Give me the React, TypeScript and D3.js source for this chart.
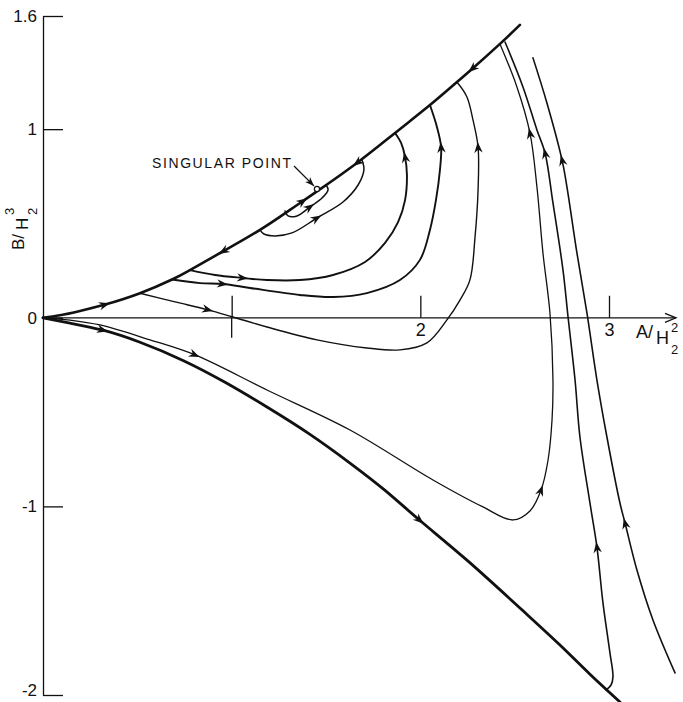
import { useRef, useEffect } from 'react'
import * as d3 from 'd3'

type Pt = [number, number]

const xTicks = [1, 2, 3]
const yTicks = [-2, -1, 0, 1, 1.6]
const xAxisMax = 3.355
const singularPoint: Pt = [1.452, 0.678]

// separatrices (A/H2^2, B/H2^3)
const upperBoundary: Pt[] = [
  [0, 0], [0.09, 0.013], [0.196, 0.036], [0.329, 0.07], [0.514, 0.13], [0.684, 0.203],
  [0.779, 0.253], [0.954, 0.352], [1.15, 0.466], [1.309, 0.572], [1.378, 0.619], [1.452, 0.67],
  [1.664, 0.821], [1.866, 0.98], [2.051, 1.128], [2.194, 1.25], [2.274, 1.319], [2.422, 1.452],
  [2.528, 1.553]
]
const lowerBoundary: Pt[] = [
  [0, 0], [0.143, -0.028], [0.318, -0.066], [0.514, -0.13], [0.742, -0.226], [0.965, -0.342],
  [1.187, -0.473], [1.415, -0.618], [1.627, -0.77], [1.813, -0.915], [1.998, -1.075],
  [2.247, -1.285], [2.528, -1.539], [2.74, -1.735], [2.899, -1.89], [3.058, -2.037]
]

// trajectories
const trajC1: Pt[] = [
  [0.779, 0.253], [0.912, 0.227], [1.06, 0.211], [1.187, 0.2], [1.362, 0.2], [1.537, 0.227],
  [1.707, 0.296], [1.813, 0.397], [1.882, 0.507], [1.919, 0.624], [1.929, 0.757], [1.919, 0.853],
  [1.898, 0.927], [1.866, 0.98]
]
const trajC2: Pt[] = [
  [0.684, 0.203], [0.832, 0.184], [0.954, 0.179], [1.097, 0.158], [1.362, 0.121], [1.537, 0.11],
  [1.717, 0.131], [1.892, 0.2], [1.998, 0.307], [2.051, 0.466], [2.083, 0.625], [2.104, 0.784],
  [2.11, 0.906], [2.088, 1.012], [2.051, 1.128]
]
const trajC3: Pt[] = [
  [0.514, 0.13], [0.7, 0.084], [0.875, 0.042], [1.007, 0.004], [1.187, -0.049], [1.452, -0.117],
  [1.717, -0.16], [1.892, -0.17], [2.035, -0.133], [2.141, -0.011], [2.21, 0.094], [2.263, 0.201],
  [2.29, 0.429], [2.306, 0.678], [2.306, 0.906], [2.279, 1.049], [2.247, 1.171], [2.194, 1.25]
]
const loopBig: Pt[] = [
  [1.15, 0.466], [1.171, 0.444], [1.23, 0.434], [1.32, 0.45], [1.452, 0.529], [1.59, 0.614],
  [1.67, 0.704], [1.701, 0.784], [1.691, 0.837]
]
const loopSmall: Pt[] = [
  [1.283, 0.566], [1.299, 0.54], [1.346, 0.54], [1.415, 0.588], [1.479, 0.635], [1.511, 0.678],
  [1.5, 0.704]
]
const trajL: Pt[] = [
  [0, 0], [0.143, -0.012], [0.302, -0.038], [0.567, -0.117], [0.806, -0.197], [1.187, -0.383],
  [1.627, -0.595], [2.067, -0.86], [2.332, -1.003], [2.491, -1.072], [2.581, -1.024], [2.64, -0.913],
  [2.677, -0.754], [2.698, -0.542], [2.703, -0.33], [2.687, 0.025], [2.65, 0.343], [2.618, 0.694],
  [2.581, 0.98], [2.512, 1.224], [2.422, 1.452]
]
const trajR2: Pt[] = [
  [2.449, 1.462], [2.544, 1.224], [2.618, 0.996], [2.661, 0.874], [2.703, 0.609], [2.756, 0.254],
  [2.783, 0.004], [2.82, -0.33], [2.846, -0.632], [2.899, -0.982], [2.936, -1.215], [2.968, -1.512],
  [3.005, -1.777], [3.021, -1.904], [3.011, -1.947], [2.984, -1.973]
]
const trajR3: Pt[] = [
  [2.597, 1.378], [2.671, 1.139], [2.751, 0.837], [2.777, 0.694], [2.83, 0.344], [2.883, 0.026],
  [2.936, -0.33], [2.989, -0.632], [3.058, -0.982], [3.085, -1.088], [3.148, -1.337],
  [3.233, -1.602], [3.35, -1.883]
]

// [point index, 1 = along drawing order, -1 = against]
const curves = [
  { pts: upperBoundary, w: 2.6, smooth: true, arrows: [[3, 1], [7, -1], [10, 1], [12, -1], [16, -1]] },
  { pts: lowerBoundary, w: 2.8, smooth: true, arrows: [[2, 1], [10, 1]] },
  { pts: trajC1, w: 1.9, smooth: false, arrows: [[2, 1], [11, 1]] },
  { pts: trajC2, w: 1.9, smooth: false, arrows: [[2, 1], [12, 1]] },
  { pts: trajC3, w: 1.4, smooth: false, arrows: [[2, 1], [14, 1]] },
  { pts: loopBig, w: 1.5, smooth: false, arrows: [[4, 1]] },
  { pts: loopSmall, w: 1.5, smooth: false, arrows: [[3, 1]] },
  { pts: trajL, w: 1.3, smooth: false, arrows: [[4, 1], [11, 1], [18, 1]] },
  { pts: trajR2, w: 1.6, smooth: false, arrows: [[3, -1], [10, -1]] },
  { pts: trajR3, w: 1.6, smooth: false, arrows: [[2, -1], [9, -1]] }
]

const width = 683
const height = 702
const ink = '#111'
const font = '"Liberation Sans", Arial, sans-serif'

function App() {
  const chartRef = useRef<HTMLDivElement>(null)

  useEffect(() => {
    const container = chartRef.current
    if (!container) return
    container.innerHTML = ''

    const svg = d3.select(container).append('svg')
      .attr('width', width)
      .attr('height', height)
      .style('display', 'block')
      .style('background', '#fff')

    const x = d3.scaleLinear().domain([0, 3]).range([43, 609])
    const y = d3.scaleLinear().domain([-2, 1.6]).range([695, 16])

    // y axis, ticks pointing inward
    const yAxis = svg.append('g')
      .attr('transform', `translate(${x(0)},0)`)
      .call(d3.axisLeft(y).tickValues(yTicks).tickSize(-20).tickSizeOuter(0).tickPadding(6)
        .tickFormat(d => String(d)))
    yAxis.select('.domain').attr('stroke', ink).attr('stroke-width', 1.3)
    yAxis.selectAll('.tick line').attr('stroke', ink).attr('stroke-width', 1.3)
    yAxis.selectAll('.tick text').attr('font-family', font).attr('font-size', 17).attr('fill', ink)
    yAxis.selectAll('.tick text').filter(d => d === -2).attr('dy', '0.05em')

    // x axis with arrow
    const xAxis = svg.append('g')
      .attr('transform', `translate(0,${y(0)})`)
      .call(d3.axisBottom(x).tickValues(xTicks).tickSize(-22).tickSizeOuter(0).tickPadding(5)
        .tickFormat(d => (d === 1 ? '' : String(d))))
    xAxis.select('.domain').remove()
    xAxis.selectAll('.tick line').attr('stroke', ink).attr('stroke-width', 1.3)
    xAxis.selectAll('.tick text').attr('font-family', font).attr('font-size', 18).attr('fill', ink)
    xAxis.append('line')
      .attr('x1', x(0)).attr('x2', x(xAxisMax))
      .attr('stroke', ink).attr('stroke-width', 1.3)
    xAxis.append('line')
      .attr('x1', x(1)).attr('x2', x(1)).attr('y1', 0).attr('y2', 20)
      .attr('stroke', ink).attr('stroke-width', 1.3)
    xAxis.append('path')
      .attr('d', `M${x(xAxisMax) - 11},-4.5L${x(xAxisMax)},0L${x(xAxisMax) - 11},4.5`)
      .attr('fill', 'none').attr('stroke', ink).attr('stroke-width', 1.3)

    // axis titles
    const xl = svg.append('g').attr('font-family', font).attr('fill', ink)
    xl.append('text').attr('x', 636).attr('y', 338).attr('font-size', 18).text('A/')
    xl.append('text').attr('x', 656).attr('y', 344).attr('font-size', 18).text('H')
    xl.append('text').attr('x', 671).attr('y', 332).attr('font-size', 13).text('2')
    xl.append('text').attr('x', 671).attr('y', 354).attr('font-size', 13).text('2')

    const yl = svg.append('g').attr('font-family', font).attr('fill', ink)
      .attr('transform', 'translate(24,250) rotate(-90)')
    yl.append('text').attr('x', 0).attr('y', 0).attr('font-size', 17).text('B/')
    yl.append('text').attr('x', 20).attr('y', 4).attr('font-size', 17).text('H')
    yl.append('text').attr('x', 35).attr('y', -10).attr('font-size', 13).text('3')
    yl.append('text').attr('x', 35).attr('y', 13).attr('font-size', 13).text('2')

    const lineFor = (smooth: boolean) => d3.line<Pt>()
      .x(d => x(d[0]))
      .y(d => y(d[1]))
      .curve(smooth ? d3.curveNatural : d3.curveCatmullRom.alpha(0.5))

    const arrowHead = 'M0,0L-11,-4.2L-7.5,0L-11,4.2Z'

    curves.forEach(c => {
      svg.append('path')
        .datum(c.pts)
        .attr('fill', 'none')
        .attr('stroke', ink)
        .attr('stroke-width', c.w)
        .attr('stroke-linejoin', 'round')
        .attr('stroke-linecap', 'round')
        .attr('d', lineFor(c.smooth))

      c.arrows.forEach(([i, dir]) => {
        const a = c.pts[Math.max(i - 1, 0)]
        const b = c.pts[Math.min(i + 1, c.pts.length - 1)]
        const dx = (x(b[0]) - x(a[0])) * dir
        const dy = (y(b[1]) - y(a[1])) * dir
        const len = Math.hypot(dx, dy)
        const px = x(c.pts[i][0]) + (dx / len) * 5
        const py = y(c.pts[i][1]) + (dy / len) * 5
        const ang = Math.atan2(dy, dx) * 180 / Math.PI
        svg.append('path')
          .attr('d', arrowHead)
          .attr('fill', ink)
          .attr('transform', `translate(${px},${py}) rotate(${ang})`)
      })
    })

    // singular point and its label
    const sx = x(singularPoint[0])
    const sy = y(singularPoint[1])
    svg.append('circle')
      .attr('cx', sx).attr('cy', sy - 1).attr('r', 2.6)
      .attr('fill', '#fff').attr('stroke', ink).attr('stroke-width', 1.2)
    svg.append('line')
      .attr('x1', 294).attr('y1', 166).attr('x2', sx - 3).attr('y2', sy - 4)
      .attr('stroke', ink).attr('stroke-width', 1.3)
    const la = Math.atan2(sy - 4 - 166, sx - 3 - 294) * 180 / Math.PI
    svg.append('path')
      .attr('d', 'M0,0L-9,-3.5L-6.5,0L-9,3.5Z')
      .attr('fill', ink)
      .attr('transform', `translate(${sx - 3},${sy - 4}) rotate(${la})`)
    svg.append('text')
      .attr('x', 291).attr('y', 168)
      .attr('text-anchor', 'end')
      .attr('font-family', font)
      .attr('font-size', 14)
      .attr('textLength', 139)
      .attr('lengthAdjust', 'spacing')
      .attr('fill', ink)
      .text('SINGULAR POINT')
  })

  return (
    <div ref={chartRef} style={{ position: 'absolute', left: 0, top: 0 }}>
    </div>
  )
}

export default App
